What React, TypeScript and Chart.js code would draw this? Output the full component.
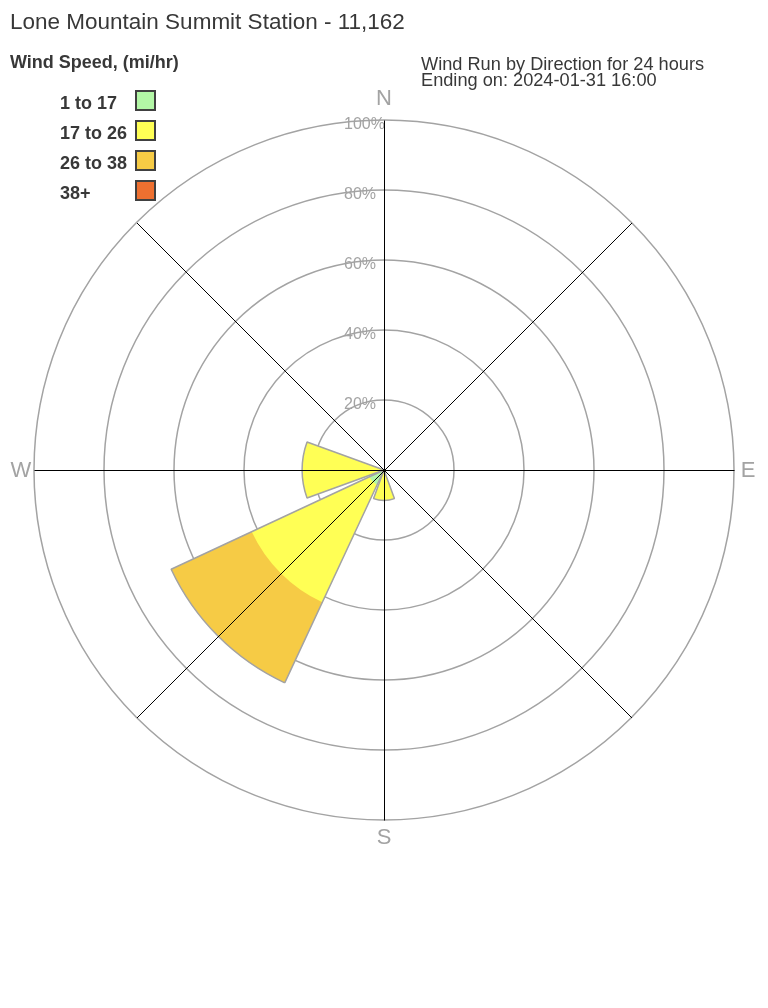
import React, { useEffect, useRef } from "react";
import { Chart, registerables } from "chart.js";

Chart.register(...registerables);

const directions = ["N", "NE", "E", "SE", "S", "SW", "W", "NW"];
const speedBands = ["1 to 17", "17 to 26", "26 to 38", "38+"];
const bandColors = ["#b3f7a6", "#ffff55", "#f6cb45", "#ee7030"];
// percent of wind run per direction, per speed band
const band1to17 = [0, 0, 0, 0, 0, 4.6, 0, 0];
const band17to26 = [0, 0, 0, 0, 8.7, 37.1, 23.4, 0];
const band26to38 = [0, 0, 0, 0, 0, 25.4, 0, 0];
const band38plus = [0, 0, 0, 0, 0, 0, 0, 0];
const rTicks = [20, 40, 60, 80, 100];
const cardinalLabels = ["N", "E", "S", "W"];

const titleText = "Lone Mountain Summit Station - 11,162";
const legendTitle = "Wind Speed, (mi/hr)";
const subLine1 = "Wind Run by Direction for 24 hours";
const subLine2 = "Ending on: 2024-01-31 16:00";

const SECTOR = 40;
const GAP = 5;

function interleave(vals: number[]): number[] {
  const out: number[] = [];
  vals.forEach((v) => {
    out.push(v);
    out.push(0);
  });
  return out;
}

export default function App() {
  const ref = useRef<HTMLCanvasElement | null>(null);

  useEffect(() => {
    if (!ref.current) return;
    const bands = [band1to17, band17to26, band26to38, band38plus];
    const cum: number[][] = [];
    let run = directions.map(() => 0);
    bands.forEach((b) => {
      run = run.map((v, i) => v + b[i]);
      cum.push(run.slice());
    });
    const totals = cum[cum.length - 1];
    const labels: string[] = [];
    directions.forEach((d) => {
      labels.push(d);
      labels.push("");
    });
    const angleFn = (ctx: any) => (ctx.dataIndex % 2 === 0 ? SECTOR : GAP);

    const datasets: any[] = [
      {
        label: "outline",
        data: interleave(totals),
        backgroundColor: "rgba(0,0,0,0)",
        borderColor: "#a3a3a3",
        borderWidth: (ctx: any) =>
          ctx.dataIndex % 2 === 0 && ctx.raw > 0 ? 1.5 : 0,
        angle: angleFn,
      },
    ];
    cum.forEach((c, i) => {
      datasets.push({
        label: speedBands[i],
        data: interleave(c),
        backgroundColor: bandColors[i],
        borderWidth: 0,
        angle: angleFn,
      });
    });

    const overlay = {
      id: "roseOverlay",
      afterDatasetsDraw(chart: any) {
        const scale = chart.scales.r;
        const ctx = chart.ctx;
        const xc = scale.xCenter;
        const yc = scale.yCenter;
        const R = scale.getDistanceFromCenterForValue(100);
        ctx.save();
        // tick labels
        ctx.font = "16px 'Liberation Sans', Arial, sans-serif";
        ctx.fillStyle = "#a3a3a3";
        ctx.textAlign = "left";
        ctx.textBaseline = "middle";
        rTicks.forEach((v) => {
          const d = scale.getDistanceFromCenterForValue(v);
          ctx.fillText(v + "%", xc - 40, yc - d + 5);
        });
        // angle lines
        ctx.strokeStyle = "#000";
        ctx.lineWidth = 1;
        directions.forEach((_, k) => {
          const a = (k * 45 * Math.PI) / 180;
          ctx.beginPath();
          ctx.moveTo(xc + 0.5, yc + 0.5);
          ctx.lineTo(xc + 0.5 + R * Math.sin(a), yc + 0.5 - R * Math.cos(a));
          ctx.stroke();
        });
        // cardinal labels
        ctx.font = "22px 'Liberation Sans', Arial, sans-serif";
        ctx.fillStyle = "#a3a3a3";
        ctx.textAlign = "center";
        ctx.textBaseline = "middle";
        const offs = [R + 22, R + 14, R + 17, R + 13];
        cardinalLabels.forEach((lab, k) => {
          const a = (k * 90 * Math.PI) / 180;
          ctx.fillText(lab, xc + offs[k] * Math.sin(a), yc - offs[k] * Math.cos(a) + 1);
        });
        ctx.restore();
      },
    };

    const chart = new Chart(ref.current, {
      type: "polarArea",
      data: { labels, datasets },
      options: {
        animation: false,
        responsive: false,
        maintainAspectRatio: false,
        layout: { padding: { left: 34, right: 34, top: 120, bottom: 188 } },
        plugins: { legend: { display: false }, tooltip: { enabled: false } },
        scales: {
          r: {
            min: 0,
            max: 100,
            startAngle: -SECTOR / 2,
            ticks: { display: false, stepSize: 20 },
            grid: { circular: true, color: "#a3a3a3", lineWidth: 1.5 },
            angleLines: { display: false },
            pointLabels: { display: false },
          },
        },
      } as any,
      plugins: [overlay],
    });
    return () => chart.destroy();
  }, []);

  const font = "'Liberation Sans', Arial, Helvetica, sans-serif";
  return (
    <div
      style={{
        position: "absolute",
        left: 0,
        top: 0,
        width: 768,
        height: 1008,
        background: "#fff",
        fontFamily: font,
        color: "#383838",
      }}
    >
      <canvas
        ref={ref}
        width={768}
        height={1008}
        style={{ position: "absolute", left: 0, top: 0, width: 768, height: 1008 }}
      />
      <div style={{ position: "absolute", left: 10, top: 11, fontSize: 22.5, lineHeight: "22px", whiteSpace: "nowrap" }}>
        {titleText}
      </div>
      <div style={{ position: "absolute", left: 10, top: 53, fontSize: 18, lineHeight: "18px", fontWeight: "bold", whiteSpace: "nowrap" }}>
        {legendTitle}
      </div>
      {speedBands.map((b, i) => (
        <React.Fragment key={b}>
          <div
            style={{
              position: "absolute",
              left: 60,
              top: 94 + i * 30,
              fontSize: 18,
              lineHeight: "18px",
              fontWeight: "bold",
              whiteSpace: "nowrap",
            }}
          >
            {b}
          </div>
          <div
            style={{
              position: "absolute",
              left: 135,
              top: 90 + i * 30,
              width: 21,
              height: 21,
              boxSizing: "border-box",
              border: "2px solid #404040",
              background: bandColors[i],
            }}
          />
        </React.Fragment>
      ))}
      <div style={{ position: "absolute", left: 421, top: 56, fontSize: 18.2, lineHeight: "16px", whiteSpace: "nowrap" }}>
        <div>{subLine1}</div>
        <div>{subLine2}</div>
      </div>
    </div>
  );
}
